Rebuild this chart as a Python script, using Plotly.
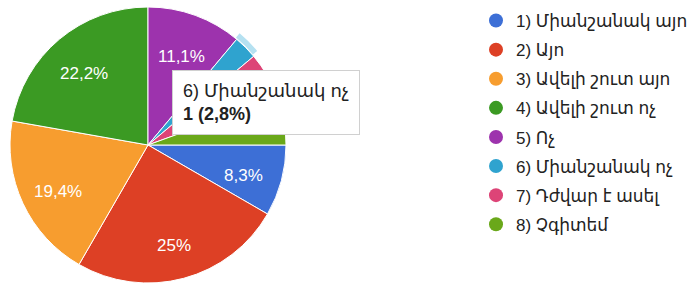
import math
import plotly.graph_objects as go

labels = ["1) Միանշանակ այո", "2) Այո", "3) Ավելի շուտ այո", "4) Ավելի շուտ ոչ",
          "5) Ոչ", "6) Միանշանակ ոչ", "7) Դժվար է ասել", "8) Չգիտեմ"]
counts = [3, 9, 7, 8, 4, 1, 2, 2]
colors = ["#3d6fd6", "#dd4025", "#f79d2f", "#3b9a23",
          "#9d33ad", "#2fa3cf", "#dd4477", "#6aa81a"]
hovered = 5  # index of the slice with the tooltip

total = sum(counts)


def pct(v):
    s = f"{v / total * 100:.1f}".replace(".", ",")
    if s.endswith(",0"):
        s = s[:-2]
    return s + "%"


W, H = 694, 285
cx, cy, r = 148, 145, 138
START = 90  # first slice starts at 3 o'clock, clockwise
FONT = "Liberation Sans, DejaVu Sans, sans-serif"

fig = go.Figure()

# highlight ring for hovered slice (domain limited to the page height)
ring_r = H / 2
fig.add_trace(go.Pie(
    values=counts, labels=labels, sort=False, direction="clockwise", rotation=START,
    marker=dict(colors=["rgba(0,0,0,0)" if i != hovered else "#b5e1f1" for i in range(len(counts))],
                line=dict(width=0)),
    hole=(r - 1) / ring_r, textinfo="none", hoverinfo="skip", showlegend=False,
    domain=dict(x=[(cx - ring_r) / W, (cx + ring_r) / W], y=[0, 1]),
))

fig.add_trace(go.Pie(
    values=counts, labels=labels, sort=False, direction="clockwise", rotation=START,
    marker=dict(colors=colors, line=dict(color="white", width=1)),
    textinfo="none", showlegend=False,
    domain=dict(x=[(cx - r) / W, (cx + r) / W], y=[(H - cy - r) / H, (H - cy + r) / H]),
))

# percentage labels inside the larger slices, placed along each slice's mid-angle
cum = 0
for i, v in enumerate(counts):
    mid = math.radians(START + 360 * (cum + v / 2) / total)
    cum += v
    if v / total < 0.05 or i in (6, 7):
        continue
    px = cx + 0.72 * r * math.sin(mid)
    py = cy - 0.72 * r * math.cos(mid) + 5
    fig.add_annotation(xref="paper", yref="paper", x=px / W, y=(H - py) / H,
                       xanchor="center", yanchor="middle",
                       text=pct(v), showarrow=False,
                       font=dict(color="white", size=17, family=FONT))

for i, (lab, col) in enumerate(zip(labels, colors)):
    fig.add_trace(go.Scatter(
        x=[None], y=[None], mode="markers", name=lab, legendgroup=str(i),
        marker=dict(color=col, size=14, symbol="circle"),
    ))

# tooltip
fig.add_annotation(
    xref="paper", yref="paper", x=172 / W, y=(H - 70) / H, xanchor="left", yanchor="top",
    text=f"{labels[hovered]}<br><b>{counts[hovered]} ({pct(counts[hovered])})</b>",
    showarrow=False, align="left", bgcolor="white", bordercolor="#d0d0d0", borderwidth=1,
    borderpad=10, font=dict(size=18, color="#222222", family=FONT),
)

fig.update_layout(
    width=W, height=H, margin=dict(l=0, r=0, t=0, b=0),
    paper_bgcolor="white", plot_bgcolor="white",
    xaxis=dict(visible=False), yaxis=dict(visible=False),
    legend=dict(x=476 / W, y=1 - 3 / H, xanchor="left", yanchor="top",
                traceorder="grouped", tracegroupgap=4,
                font=dict(size=17, color="#222222", family=FONT)),
    font=dict(family=FONT),
)

fig.write_html("out.html", config={"displayModeBar": False},
               post_script="document.body.style.margin='0';")
